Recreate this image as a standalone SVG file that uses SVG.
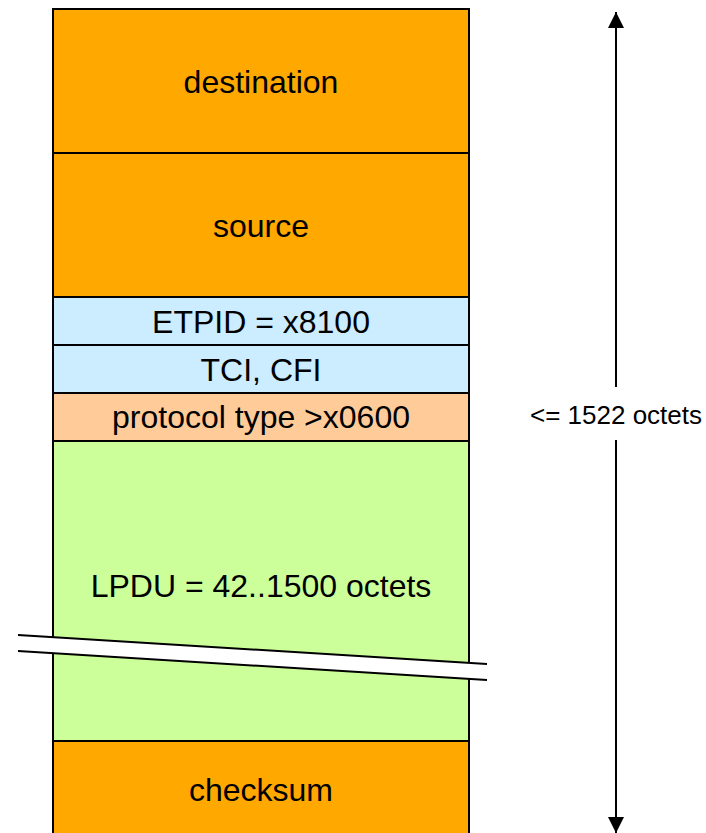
<svg xmlns="http://www.w3.org/2000/svg" width="706" height="833" viewBox="0 0 706 833">
<style>
.f{stroke:#000;stroke-width:2}
.t{font-family:"Liberation Sans",Arial,sans-serif;font-size:32px;text-anchor:middle;fill:#000}
.s{font-family:"Liberation Sans",Arial,sans-serif;font-size:26px;text-anchor:middle;fill:#000}
</style>
<defs>
<marker id="ah" viewBox="0 0 10 10" refX="10" refY="5" markerWidth="16" markerHeight="16" markerUnits="userSpaceOnUse" orient="auto"><path d="M0,0 L10,5 L0,10 z" fill="#000"/></marker>
</defs>
<rect width="706" height="833" fill="#fff"/>
<g id="destination"><rect class="f" x="53" y="9" width="416" height="144" fill="#FFA800"/><text class="t" x="261" y="93">destination</text></g>
<g id="source"><rect class="f" x="53" y="153" width="416" height="144" fill="#FFA800"/><text class="t" x="261" y="237">source</text></g>
<g id="etpid"><rect class="f" x="53" y="297" width="416" height="48" fill="#CCECFF"/><text class="t" x="261" y="333">ETPID = x8100</text></g>
<g id="tci"><rect class="f" x="53" y="345" width="416" height="48" fill="#CCECFF"/><text class="t" x="261" y="381">TCI, CFI</text></g>
<g id="protocol"><rect class="f" x="53" y="393" width="416" height="48" fill="#FFCC99"/><text class="t" x="261" y="428">protocol type &gt;x0600</text></g>
<g id="lpdu"><rect class="f" x="53" y="441" width="416" height="300" fill="#CCFF99"/><text class="t" x="261" y="597">LPDU = 42..1500 octets</text></g>
<g id="checksum"><rect class="f" x="53" y="741" width="416" height="100" fill="#FFA800"/><text class="t" x="261" y="801">checksum</text></g>
<g id="break"><polygon points="18,635 487,664 487,680 18,651" fill="#fff"/><line x1="18" y1="635" x2="487" y2="664" stroke="#000" stroke-width="2"/><line x1="18" y1="651" x2="487" y2="680" stroke="#000" stroke-width="2"/></g>
<g id="connectors">
<line x1="616" y1="387" x2="616" y2="12" stroke="#000" stroke-width="2" marker-end="url(#ah)"/>
<line x1="616" y1="440" x2="616" y2="833" stroke="#000" stroke-width="2" marker-end="url(#ah)"/>
</g>
<g id="label"><text class="s" x="616" y="424">&lt;= 1522 octets</text></g>
</svg>
